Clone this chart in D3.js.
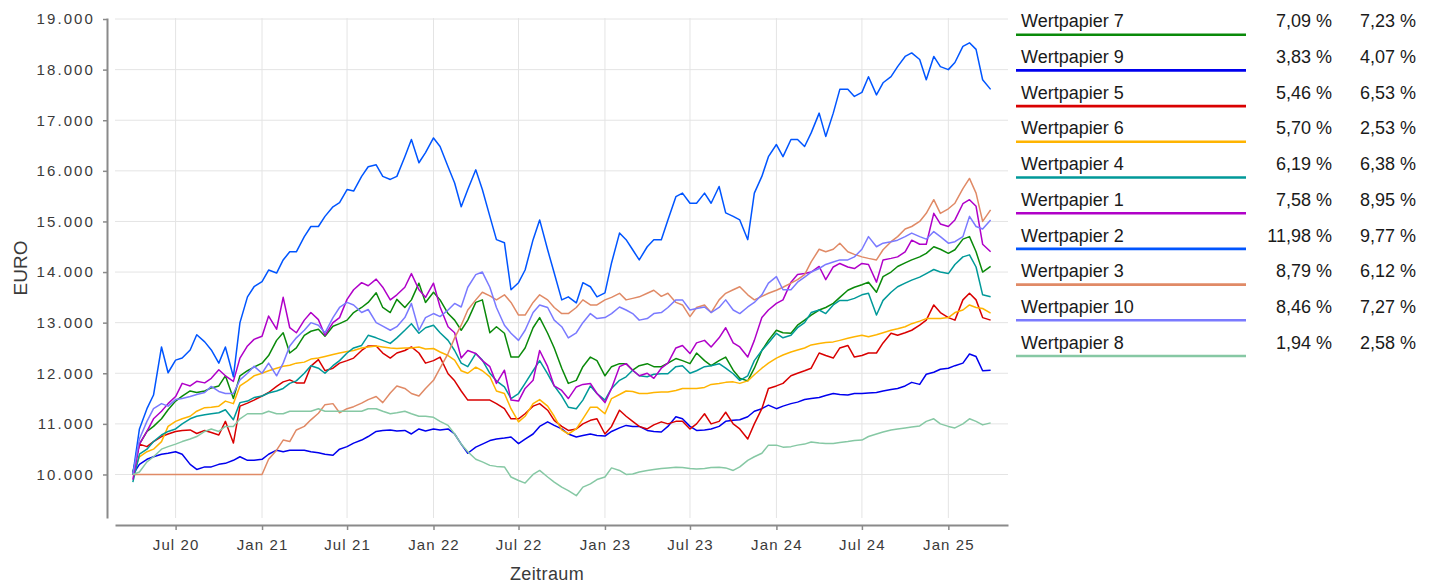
<!DOCTYPE html>
<html>
<head>
<meta charset="utf-8">
<script src="https://cdn.jsdelivr.net/npm/d3@7"></script>
<style>
  body { margin: 0; background: #fff; }
  svg { display: block; font-family: "Liberation Sans", Arial, sans-serif; }
</style>
</head>
<body>
<div id="chart"></div>
<script>
// semi-monthly values (1st and 15th of each month), Apr 2020 - Apr 2025
var wp7 = [10050,10600,10850,10950,11100,11280,11450,11550,11650,11620,11650,11710,11750,11950,11500,11950,12050,12120,
  12200,12350,12650,12800,12400,12500,12750,12830,12870,12730,12930,12980,13050,13200,13300,13400,13590,13300,13200,13460,13300,13450,13780,13400,
  13600,13450,13180,13050,12850,13050,13400,13450,12800,12920,12790,12320,12320,12500,12900,13100,12790,12500,12100,11800,11860,12130,12320,12250,
  11950,12130,12190,12190,12060,12150,12190,12130,12130,12200,12290,12250,12190,12400,12250,12150,12250,12320,12060,11900,11850,12100,12450,12650,
  12850,12800,12790,12950,13050,13150,13250,13300,13380,13500,13640,13700,13750,13800,13600,13910,14000,14110,14180,14240,14300,14370,14500,14450,
  14370,14440,14650,14700,14400,14000,14110];
var wp9 = [10000,10200,10300,10350,10400,10420,10450,10400,10200,10100,10150,10150,10200,10220,10280,10350,10280,10280,
  10300,10400,10480,10450,10480,10480,10480,10450,10430,10400,10380,10500,10550,10620,10680,10750,10850,10870,10880,10860,10870,10800,10900,10860,
  10900,10880,10900,10800,10600,10420,10540,10600,10670,10700,10720,10740,10610,10700,10800,10950,11040,10970,10900,10800,10740,10770,10800,10770,
  10760,10850,10920,10970,10950,10950,10870,10850,10840,10950,11140,11100,10950,10870,10880,10900,10950,11050,11070,11080,11140,11250,11300,11370,
  11300,11350,11400,11430,11480,11500,11520,11560,11600,11580,11570,11600,11600,11610,11620,11650,11680,11700,11750,11820,11780,11980,12020,12080,
  12100,12150,12200,12380,12330,12050,12060];
var wp5 = [10000,10600,10550,10650,10750,10800,10850,10870,10880,10810,10870,10830,10780,11050,10620,11350,11410,11470,
  11550,11620,11740,11830,11870,11810,11810,12140,12270,12050,12100,12200,12250,12300,12450,12540,12540,12400,12300,12400,12450,12520,12400,12200,
  12250,12320,11990,11850,11650,11470,11470,11470,11470,11400,11300,11100,11100,11200,11350,11400,11270,11070,10950,10870,10900,11000,11070,11100,
  10800,10950,11270,11150,11050,10950,10900,10980,11040,11000,11050,11050,10900,11000,11200,11000,11050,11230,11000,10900,10700,11000,11300,11700,
  11750,11800,11950,12000,12050,12100,12400,12350,12300,12500,12550,12320,12350,12400,12400,12600,12790,12750,12800,12850,12950,13050,13350,13200,
  13100,13050,13450,13580,13450,13100,13050];
var wp6 = [10000,10350,10450,10500,10650,10950,11050,11100,11150,11250,11320,11330,11350,11450,11400,11750,11850,11950,
  12000,12050,12100,12140,12160,12200,12220,12280,12300,12330,12370,12400,12430,12450,12500,12520,12540,12520,12500,12490,12500,12500,12520,12480,
  12490,12420,12350,12260,12050,12000,12120,12050,11930,11650,11600,11300,11040,11150,11400,11480,11350,11150,10880,10800,10900,11100,11330,11330,
  11200,11500,11580,11650,11640,11600,11600,11620,11630,11630,11660,11700,11700,11700,11720,11780,11800,11820,11830,11800,11850,11970,12100,12200,
  12300,12360,12420,12460,12500,12560,12590,12610,12620,12650,12690,12720,12750,12720,12760,12800,12850,12880,12920,12980,13030,13080,13080,13080,
  13100,13200,13250,13350,13300,13280,13190];
var wp4 = [9850,10400,10500,10650,10780,10850,10900,11000,11100,11150,11180,11200,11220,11280,11080,11420,11450,11520,
  11550,11610,11650,11700,11800,11850,12000,12150,12100,12000,12150,12250,12400,12500,12550,12750,12700,12650,12590,12700,12850,12980,12790,12900,
  12950,12800,12650,12450,12200,12130,12390,12260,12000,11850,11730,11500,11600,11800,12050,12250,11990,11750,11550,11330,11300,11470,11750,11600,
  11470,11700,11860,11930,12060,11950,11930,11980,11990,11990,12130,12150,12000,12050,12130,12150,12190,12100,11990,11860,11950,12250,12450,12600,
  12790,12700,12750,12900,13000,13200,13250,13180,13350,13440,13440,13480,13550,13580,13150,13440,13600,13710,13780,13840,13900,13970,14050,14000,
  13970,14150,14300,14340,14100,13550,13510];
var wp1 = [9900,10600,10850,11100,11250,11400,11540,11800,11750,11840,11810,11900,12070,11950,11840,12300,12540,12670,
  12730,13130,12870,13500,12900,12800,13050,13200,13060,12750,13000,13100,13460,13650,13790,13730,13860,13700,13450,13550,13700,13970,13650,13500,
  13780,13310,12920,12800,12300,12450,12390,12250,12130,11800,12060,11470,11450,11700,11860,12450,12130,11750,11660,11500,11730,11780,11800,11600,
  11420,11700,12130,12190,12060,11950,12000,11900,12100,12200,12500,12550,12390,12600,12650,12520,12700,12900,12600,12520,12320,12650,13100,13250,
  13380,13450,13800,13950,13970,14000,14110,13850,14100,14170,14100,14070,14170,14150,13800,14240,14270,14300,14400,14630,14550,14550,15160,14950,
  14900,15030,15350,15430,15300,14550,14400];
var wp2 = [10000,10900,11300,11570,12520,12010,12260,12300,12460,12760,12620,12460,12200,12520,11930,13000,13510,13710,
  13810,14040,13980,14240,14400,14400,14700,14900,14900,15100,15290,15370,15630,15600,15890,16080,16120,15890,15830,15890,16280,16620,16160,16360,
  16650,16480,16080,15760,15290,15630,16020,15630,15100,14640,14580,13650,13790,14040,14640,15030,14440,13980,13450,13510,13390,13790,13710,13510,
  13590,14180,14770,14640,14440,14240,14500,14640,14640,15030,15490,15560,15360,15360,15560,15360,15690,15170,15100,15030,14640,15560,15890,16280,
  16520,16280,16620,16620,16480,16750,17140,16680,17140,17610,17610,17470,17550,17860,17500,17740,17860,18060,18260,18330,18200,17800,18260,18060,
  18000,18140,18460,18530,18400,17800,17610];
var wp3 = [10000,10000,10000,10000,10000,10000,10000,10000,10000,10000,10000,10000,10000,10000,10000,10000,10000,10000,
  10000,10300,10480,10680,10650,10880,10950,11080,11210,11380,11400,11220,11300,11340,11410,11480,11540,11420,11610,11750,11700,11600,11550,11700,
  11860,12100,12390,12700,12950,13250,13450,13600,13530,13450,13550,13400,13150,13150,13400,13550,13450,13300,13180,13180,13300,13450,13350,13350,
  13450,13500,13580,13450,13480,13510,13580,13640,13520,13580,13400,13350,13120,13300,13350,13200,13450,13580,13650,13710,13550,13450,13520,13580,
  13640,13700,13780,13850,13950,14200,14450,14400,14450,14570,14400,14350,14300,14270,14240,14440,14600,14700,14850,14900,15000,15160,15430,15160,
  15250,15360,15650,15850,15560,15000,15230];
var wp10 = [10000,10700,11050,11300,11400,11350,11480,11500,11540,11580,11620,11740,11640,11600,11600,11870,12000,12140,
  12000,12200,11950,12200,12540,12700,12850,13000,12950,12800,13100,13300,13400,13350,13200,13260,13000,12930,12850,12920,13100,13380,12850,13100,
  13180,13120,13250,13380,13310,13700,13950,14000,13700,13300,12950,12790,12650,12850,13200,13350,13300,13050,12920,12700,12800,13000,13180,13080,
  13100,13180,13310,13250,13180,13050,13080,13180,13200,13300,13450,13450,13250,13280,13310,13200,13300,13450,13250,13180,13310,13400,13550,13780,
  13910,13650,13650,13800,13900,14000,14070,14150,14200,14240,14240,14300,14450,14700,14500,14570,14600,14630,14700,14770,14700,14650,14800,14700,
  14570,14600,14700,15100,14900,14850,15030];
var wp8 = [10000,10050,10250,10350,10500,10550,10600,10650,10700,10750,10850,10900,10850,10950,10950,11100,11200,11200,
  11200,11250,11200,11200,11250,11250,11250,11250,11300,11250,11250,11250,11250,11250,11250,11300,11300,11250,11200,11220,11250,11200,11150,11150,
  11130,11050,10970,10800,10600,10450,10300,10250,10180,10160,10150,9950,9880,9830,10000,10080,9950,9850,9750,9680,9580,9750,9815,9900,
  9950,10130,10080,10000,10010,10050,10080,10100,10120,10130,10145,10140,10120,10110,10120,10140,10145,10130,10080,10150,10280,10350,10420,10580,
  10580,10540,10550,10580,10600,10640,10620,10610,10610,10630,10650,10670,10680,10750,10800,10840,10880,10900,10920,10940,10960,11050,11100,11000,
  10950,10920,11000,11100,11050,10980,11020];

var legendNames = ["Wertpapier 7","Wertpapier 9","Wertpapier 5","Wertpapier 6","Wertpapier 4",
  "Wertpapier 1","Wertpapier 2","Wertpapier 3","Wertpapier 10","Wertpapier 8"];
var rateA = ["7,09 %","3,83 %","5,46 %","5,70 %","6,19 %","7,58 %","11,98 %","8,79 %","8,46 %","1,94 %"];
var rateB = ["7,23 %","4,07 %","6,53 %","2,53 %","6,38 %","8,95 %","9,77 %","6,12 %","7,27 %","2,58 %"];
var colors = ["#0a8a0a","#0000ee","#d90000","#ffb400","#009999","#b000c8","#0055ff","#e08a66","#7a7aff","#86c8a4"];
var seriesValues = [wp7, wp9, wp5, wp6, wp4, wp1, wp2, wp3, wp10, wp8];

var yTicks = [10000,11000,12000,13000,14000,15000,16000,17000,18000,19000];
var xTicks = ["2020-07-01","2021-01-01","2021-07-01","2022-01-01","2022-07-01",
  "2023-01-01","2023-07-01","2024-01-01","2024-07-01","2025-01-01"];

// dates of the samples: 1st and 15th of each month
var dates = [];
for (var yr = 2020; yr <= 2025; yr++) {
  for (var m = 0; m < 12; m++) {
    if (yr == 2020 && m < 3) continue;
    if (yr == 2025 && m > 3) break;
    dates.push(new Date(yr, m, 1));
    if (!(yr == 2025 && m == 3)) dates.push(new Date(yr, m, 15));
  }
}

var W = 1434, H = 583;
var svg = d3.select("#chart").append("svg").attr("width", W).attr("height", H);

var x = d3.scaleTime()
  .domain([new Date(2020, 1, 23), new Date(2025, 4, 8)])
  .range([115, 1008]);
var y = d3.scaleLinear().domain([9140, 19020]).range([518, 18]);

var de = d3.formatLocale({decimal: ",", thousands: ".", grouping: [3], currency: ["", " €"]});
var fmt = de.format(",.0f");
var parse = d3.timeParse("%Y-%m-%d");
var xTickDates = xTicks.map(parse);

//grid
var grid = svg.append("g");
grid.selectAll("line.h").data(yTicks).enter().append("line")
  .attr("x1", 115).attr("x2", 1008)
  .attr("y1", function(d){ return y(d); }).attr("y2", function(d){ return y(d); })
  .attr("stroke", "#e4e4e4").attr("stroke-width", 1);
grid.selectAll("line.v").data(xTickDates).enter().append("line")
  .attr("y1", 18).attr("y2", 518)
  .attr("x1", function(d){ return x(d); }).attr("x2", function(d){ return x(d); })
  .attr("stroke", "#e4e4e4").attr("stroke-width", 1);

//axes
var yAxis = svg.append("g").attr("transform", "translate(107,0)")
  .call(d3.axisLeft(y).tickValues(yTicks).tickFormat(fmt).tickSize(4).tickSizeOuter(0).tickPadding(8));
var xAxis = svg.append("g").attr("transform", "translate(0,525)")
  .call(d3.axisBottom(x).tickValues(xTickDates).tickFormat(d3.timeFormat("%b %y")).tickSize(5).tickSizeOuter(0).tickPadding(9));
[yAxis, xAxis].forEach(function(a){
  a.select(".domain").attr("stroke", "#8a8a8a").attr("stroke-width", 2);
  a.selectAll(".tick line").attr("stroke", "#8a8a8a").attr("stroke-width", 1.5);
  a.selectAll(".tick text").attr("fill", "#3a3a3a").style("font-family", "'Liberation Sans', Arial, sans-serif");
});
yAxis.selectAll(".tick text").style("font-size", "15px").style("letter-spacing", "2.1px");
xAxis.selectAll(".tick text").style("font-size", "15px").style("letter-spacing", "1.1px");

svg.append("text").attr("transform", "rotate(-90)")
  .attr("x", -268).attr("y", 27).attr("text-anchor", "middle")
  .style("font-size", "19px").attr("fill", "#3a3a3a").text("EURO");
svg.append("text").attr("x", 547).attr("y", 580).attr("text-anchor", "middle")
  .style("font-size", "18px").style("letter-spacing", "0.4px").attr("fill", "#3a3a3a").text("Zeitraum");

//lines
var line = d3.line()
  .x(function(d, i){ return x(dates[i]); })
  .y(function(d){ return y(d); });
svg.append("g").selectAll("path").data(seriesValues).enter().append("path")
  .attr("d", line)
  .attr("fill", "none")
  .attr("stroke", function(d, i){ return colors[i]; })
  .attr("stroke-width", 1.5)
  .attr("stroke-linejoin", "round");

//legend
var leg = svg.append("g").selectAll("g").data(legendNames).enter().append("g")
  .attr("transform", function(d, i){ return "translate(0," + (27.3 + i * 35.7) + ")"; });
leg.append("text").attr("x", 1021).attr("y", 0).style("font-size", "18px").attr("fill", "#1a1a1a")
  .text(function(d){ return d; });
leg.append("line").attr("x1", 1016).attr("x2", 1246).attr("y1", 7.4).attr("y2", 7.4)
  .attr("stroke", function(d, i){ return colors[i]; }).attr("stroke-width", 2.6);
leg.append("text").attr("x", 1332).attr("y", 0).attr("text-anchor", "end").style("font-size", "18px").attr("fill", "#1a1a1a")
  .text(function(d, i){ return rateA[i]; });
leg.append("text").attr("x", 1416).attr("y", 0).attr("text-anchor", "end").style("font-size", "18px").attr("fill", "#1a1a1a")
  .text(function(d, i){ return rateB[i]; });
</script>
</body>
</html>
